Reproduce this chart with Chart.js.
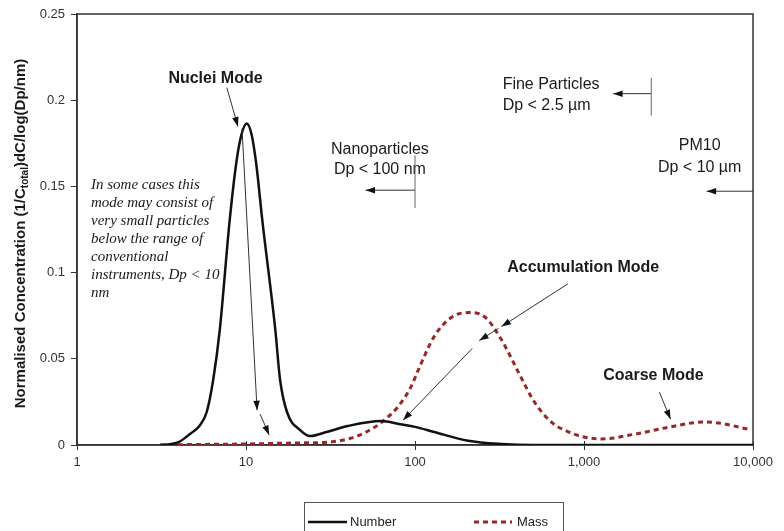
<!DOCTYPE html>
<html>
<head>
<meta charset="utf-8">
<script src="https://cdn.jsdelivr.net/npm/chart.js@4.4.1/dist/chart.umd.min.js"></script>
<style>
html,body{margin:0;padding:0;background:#fff;}
</style>
</head>
<body>
<canvas id="grafico" width="784" height="531"></canvas>
<script>
// valores (diametro en nm, concentracion normalizada)
const diamNumber=[3.1,3.6,4.0,4.6,5.3,5.85,6.4,7.0,8.0,8.8,9.4,10.1,10.8,11.5,12.5,14.9,15.9,17.5,21,24,30,40,63,82,100,130,206,325,500,1000,10000]
const concNumber=[0,0.0006,0.0017,0.006,0.011,0.019,0.038,0.067,0.130,0.165,0.180,0.1865,0.180,0.163,0.130,0.067,0.038,0.019,0.0085,0.0052,0.0075,0.011,0.0139,0.012,0.0105,0.0075,0.0025,0.0006,0,0,0]

const diamMass=[3.1,5,10,20,30,36,45,57,65,79,95,104,130,164,207,257,325,410,510,647,815,1000,1270,2000,3200,5100,6300,9500]
const concMass=[0,0.0003,0.0006,0.0012,0.0016,0.0025,0.005,0.010,0.014,0.022,0.034,0.043,0.063,0.074,0.0768,0.0745,0.061,0.042,0.0248,0.013,0.0075,0.0046,0.0035,0.0063,0.0104,0.0133,0.0127,0.009]

const seriesNames=["Number","Mass"]
const xTicks=[1,10,100,1000,10000]
const yTicks=[0,0.05,0.1,0.15,0.2,0.25]

const SANS="'Liberation Sans', Arial, sans-serif"
const SERIF="'Liberation Serif', 'Times New Roman', serif"

// anotaciones en coordenadas de datos (nm, valor)
const textos=[
 {t:["Nuclei Mode"],x:6.6,y:0.2125,font:"bold 16px "+SANS,align:"center"},
 {t:["In some cases this","mode may consist of","very small particles","below the range of","conventional","instruments, Dp < 10","nm"],x:1.21,y:0.1505,font:"italic 15px "+SERIF,align:"left",lh:18},
 {t:["Nanoparticles","Dp < 100 nm"],x:62,y:0.1715,font:"16px "+SANS,align:"center",lh:20},
 {t:["Fine Particles","Dp < 2.5 \u00b5m"],x:330,y:0.209,font:"16px "+SANS,align:"left",lh:21},
 {t:["PM10","Dp < 10 \u00b5m"],x:4836,y:0.1735,font:"16px "+SANS,align:"center",lh:22},
 {t:["Accumulation Mode"],x:990,y:0.1028,font:"bold 16px "+SANS,align:"center"},
 {t:["Coarse Mode"],x:2575,y:0.0404,font:"bold 16px "+SANS,align:"center"}
]

const flechas=[
 [7.7,0.2073,8.96,0.1848],
 [9.47,0.1836,11.63,0.0202],
 [12.12,0.0179,13.71,0.0058],
 [100,0.1478,51,0.1478],
 [2500,0.2038,1488,0.2038],
 [10000,0.1472,5321,0.1472],
 [803,0.0935,325,0.0687],
 [312,0.0676,240,0.0606],
 [218,0.056,85,0.0144],
 [2794,0.0306,3251,0.015]
]

const lineas=[
 [100,0.168,100,0.1374],
 [2500,0.213,2500,0.1911]
]

function flecha(ctx,x1,y1,x2,y2){
 ctx.beginPath();ctx.moveTo(x1,y1);ctx.lineTo(x2,y2);ctx.stroke()
 const a=Math.atan2(y2-y1,x2-x1),tam=10
 ctx.beginPath()
 ctx.moveTo(x2,y2)
 ctx.lineTo(x2-tam*Math.cos(a-0.33),y2-tam*Math.sin(a-0.33))
 ctx.lineTo(x2-tam*Math.cos(a+0.33),y2-tam*Math.sin(a+0.33))
 ctx.closePath();ctx.fill()
}

const extras={
 id:"extras",
 beforeDatasetsDraw(chart){
  const {ctx,chartArea:ca,scales}=chart
  ctx.save()
  ctx.strokeStyle="#333";ctx.lineWidth=1.5
  ctx.strokeRect(ca.left,ca.top,ca.right-ca.left,ca.bottom-ca.top)
  // marcas del eje x hacia dentro
  ctx.lineWidth=1
  xTicks.forEach(v=>{
   const x=Math.round(scales.x.getPixelForValue(v))+0.5
   ctx.beginPath();ctx.moveTo(x,ca.bottom-4);ctx.lineTo(x,ca.bottom);ctx.stroke()
  })
  ctx.restore()
 },
 afterDraw(chart){
  const {ctx,chartArea:ca,scales}=chart
  const X=v=>scales.x.getPixelForValue(v)
  const Y=v=>scales.y.getPixelForValue(v)
  ctx.save()
  ctx.fillStyle="#1a1a1a"
  ctx.textBaseline="middle"
  textos.forEach(o=>{
   ctx.font=o.font;ctx.textAlign=o.align
   o.t.forEach((s,i)=>ctx.fillText(s,X(o.x),Y(o.y)+i*(o.lh||0)))
  })
  ctx.strokeStyle="#333";ctx.fillStyle="#111";ctx.lineWidth=1
  flechas.forEach(f=>flecha(ctx,X(f[0]),Y(f[1]),X(f[2]),Y(f[3])))
  ctx.strokeStyle="#666"
  lineas.forEach(l=>{
   ctx.beginPath();ctx.moveTo(X(l[0]),Y(l[1]));ctx.lineTo(X(l[2]),Y(l[3]));ctx.stroke()
  })

  // titulo del eje y con subindice
  const partes=[["Normalised Concentration (1/C","bold 15px "+SANS,0],["total","bold 10px "+SANS,4],[")dC/log(Dp/nm)","bold 15px "+SANS,0]]
  let total=0
  partes.forEach(p=>{ctx.font=p[1];total+=ctx.measureText(p[0]).width})
  ctx.translate(21,(ca.top+ca.bottom)/2+4)
  ctx.rotate(-Math.PI/2)
  ctx.textAlign="left";ctx.fillStyle="#1a1a1a"
  let pos=-total/2
  partes.forEach(p=>{ctx.font=p[1];ctx.fillText(p[0],pos,p[2]);pos+=ctx.measureText(p[0]).width})
  ctx.setTransform(1,0,0,1,0,0)

  // leyenda con recuadro
  ctx.strokeStyle="#555";ctx.lineWidth=1
  ctx.strokeRect(304.5,502.5,259,40)
  const ds=chart.data.datasets
  ctx.font="13px "+SANS;ctx.fillStyle="#222";ctx.textAlign="left"
  ctx.strokeStyle=ds[0].borderColor;ctx.lineWidth=2.5;ctx.setLineDash([])
  ctx.beginPath();ctx.moveTo(308,522);ctx.lineTo(347,522);ctx.stroke()
  ctx.fillText(ds[0].label,350,522)
  ctx.strokeStyle=ds[1].borderColor;ctx.lineWidth=3;ctx.setLineDash(ds[1].borderDash)
  ctx.beginPath();ctx.moveTo(474,522);ctx.lineTo(512,522);ctx.stroke()
  ctx.setLineDash([])
  ctx.fillText(ds[1].label,517,522)
  ctx.restore()
 }
}

new Chart(document.getElementById("grafico"),{
 type:"line",
 data:{
  datasets:[
   {label:seriesNames[0],data:diamNumber.map((d,i)=>({x:d,y:concNumber[i]})),borderColor:"#111",borderWidth:2.5,pointRadius:0,cubicInterpolationMode:"monotone",fill:false},
   {label:seriesNames[1],data:diamMass.map((d,i)=>({x:d,y:concMass[i]})),borderColor:"#9a2626",borderWidth:3,borderDash:[5,4],pointRadius:0,cubicInterpolationMode:"monotone",fill:false}
  ]
 },
 options:{
  responsive:false,
  animation:false,
  layout:{padding:{top:14,right:31,left:0,bottom:0}},
  plugins:{legend:{display:false},tooltip:{enabled:false}},
  scales:{
   x:{
    type:"logarithmic",min:1,max:10000,
    afterBuildTicks:s=>{s.ticks=xTicks.map(v=>({value:v}))},
    afterFit:s=>{s.height=86},
    ticks:{autoSkip:false,maxRotation:0,padding:5,color:"#333",font:{family:SANS,size:13},callback:v=>Number(v).toLocaleString("en-US")},
    grid:{drawOnChartArea:false,tickLength:5,color:"#333"},
    border:{color:"#333",width:1.5}
   },
   y:{
    min:0,max:0.25,
    afterBuildTicks:s=>{s.ticks=yTicks.map(v=>({value:v}))},
    afterFit:s=>{s.width=77},
    ticks:{padding:6,color:"#333",font:{family:SANS,size:13},callback:v=>String(+Number(v).toFixed(2))},
    grid:{drawOnChartArea:false,tickLength:6,color:"#333"},
    border:{color:"#333",width:1.5}
   }
  }
 },
 plugins:[extras]
})
</script>
</body>
</html>
